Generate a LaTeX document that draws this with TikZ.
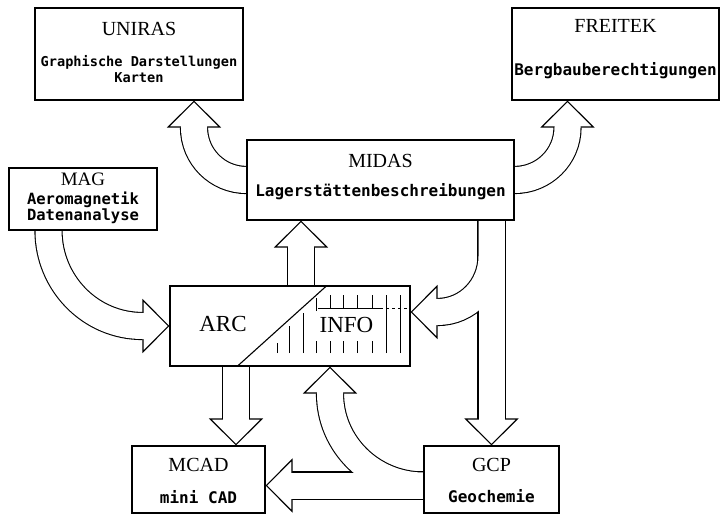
\documentclass[tikz,border=0pt]{standalone}
\usepackage{fontspec}
\newfontfamily\dotfont{DejaVu Sans Mono}
\newfontfamily\headfont{Liberation Serif}
\usetikzlibrary{arrows.meta,backgrounds}

\tikzset{
  box/.style={draw, line width=1.1pt, inner sep=0pt},
  title/.style={font=\headfont\fontsize{20}{23}\selectfont, inner sep=0pt},
  sub/.style={font=\dotfont\bfseries\fontsize{16}{17}\selectfont, inner sep=0pt, align=center},
  shaftout/.style={line width=28.2pt, -{Triangle[fill=white, line width=1.1pt, length=27pt, width=54pt]}},
  shaftin/.style={line width=26pt, white, shorten >=24pt},
  hatch/.style={line width=1pt},
}

\begin{document}
\begin{tikzpicture}[x=1pt, y=1pt]
        \useasboundingbox (0,0) rectangle (723,515);

        % boxes
        \node [box, minimum width=208pt, minimum height=92pt] (uniras) at (139,461) {};
        \node [box, minimum width=207pt, minimum height=92pt] (freitek) at (615.5,461) {};
        \node [box, minimum width=267pt, minimum height=80pt] (midas) at (380.5,335) {};
        \node [box, minimum width=148pt, minimum height=62pt] (mag) at (83,316) {};
        \node [box, minimum width=240pt, minimum height=80pt] (arcinfo) at (290,189) {};
        \node [box, minimum width=133pt, minimum height=67pt] (mcad) at (198.5,35.5) {};
        \node [box, minimum width=135pt, minimum height=67pt] (gcp) at (491.5,35.5) {};

        % texts
        \node [title] (unirasT) at ([yshift=-22pt]uniras.north) {UNIRAS};
        \node [sub, font=\dotfont\bfseries\fontsize{13.6}{16}\selectfont] (unirasS) at ([yshift=-62pt]uniras.north) {Graphische Darstellungen\\Karten};
        \node [title] (freitekT) at ([yshift=-19pt]freitek.north) {FREITEK};
        \node [sub] (freitekS) at ([yshift=-63pt]freitek.north) {Bergbauberechtigungen};
        \node [title] (midasT) at ([yshift=-22pt]midas.north) {MIDAS};
        \node [sub] (midasS) at ([yshift=-52pt]midas.north) {Lagerstättenbeschreibungen};
        \node [title, font=\headfont\fontsize{19}{22}\selectfont] (magT) at ([yshift=-12pt]mag.north) {MAG};
        \node [sub, font=\dotfont\bfseries\fontsize{15.5}{16}\selectfont] (magS) at ([yshift=-40.5pt]mag.north) {Aeromagnetik\\Datenanalyse};
        \node [title] (mcadT) at ([yshift=-20pt]mcad.north) {MCAD};
        \node [sub] (mcadS) at ([yshift=-52pt]mcad.north) {mini CAD};
        \node [title] (gcpT) at ([yshift=-20pt]gcp.north) {GCP};
        \node [sub] (gcpS) at ([yshift=-51pt]gcp.north) {Geochemie};
        \node [title, font=\headfont\fontsize{23}{26}\selectfont] (arcT) at ([xshift=-67pt,yshift=2pt]arcinfo.center) {ARC};
        \node [title, font=\headfont\fontsize{23}{26}\selectfont] (infoT) at ([xshift=56.5pt,yshift=1pt]arcinfo.center) {INFO};

        % ARC / INFO split and hatching
        \draw [box] ([xshift=37pt]arcinfo.north) -- ([xshift=-53pt]arcinfo.south);
        \draw [hatch] (277,162) -- (277,172);
        \draw [hatch] (289,162) -- (289,189);
        \draw [hatch] (303,162) -- (303,202);
        \draw [hatch] (316,204) -- (316,217);
        \foreach \x in {316,330,343,357,372}
            \draw [hatch] (\x,162) -- (\x,174);
        \foreach \x in {330,343,357,372}
            \draw [hatch] (\x,207) -- (\x,220);
        \foreach \x in {386,400}
            \draw [hatch] (\x,162) -- (\x,220);
        \draw [hatch] (318,207) -- (380,207);
        \draw [line width=0.8pt, dashed] (380,207) -- (410,207);

        % wide arrows, outline first, then the inside
        \begin{scope}[on background layer]
        \foreach \lay in {shaftout,shaftin} {
            \draw [\lay] (midas.west) to[out=180, in=-90] ([xshift=55pt,yshift=-27pt]uniras.south) -- ([xshift=55pt]uniras.south);
            \draw [\lay] (midas.east) to[out=0, in=-90] ([xshift=-48pt,yshift=-27pt]freitek.south) -- ([xshift=-48pt]freitek.south);
            \draw [\lay] ([xshift=11pt]arcinfo.north) -- ([xshift=-79.5pt]midas.south);
            \draw [\lay] ([xshift=-34.5pt]mag.south) to[out=-90, in=180] ([xshift=-27pt]arcinfo.west) -- (arcinfo.west);
            \draw [\lay] (midas.south -| gcp.north) -- (gcp.north);
            \draw [\lay] (midas.south -| gcp.north) -- ++(0,-36) to[out=-90, in=0] ([xshift=27pt,yshift=14pt]arcinfo.east) -- ([yshift=14pt]arcinfo.east);
            \draw [\lay] ([yshift=-6pt]gcp.west) -- ([yshift=-6pt]mcad.east);
            \draw [\lay] ([yshift=-6pt]gcp.west) to[out=180, in=-90] ([xshift=40pt,yshift=-27pt]arcinfo.south) -- ([xshift=40pt]arcinfo.south);
            \draw [\lay] ([xshift=-54pt]arcinfo.south) -- ([xshift=37.5pt]mcad.north);
        }
        \end{scope}
    \end{tikzpicture}
\end{document}
